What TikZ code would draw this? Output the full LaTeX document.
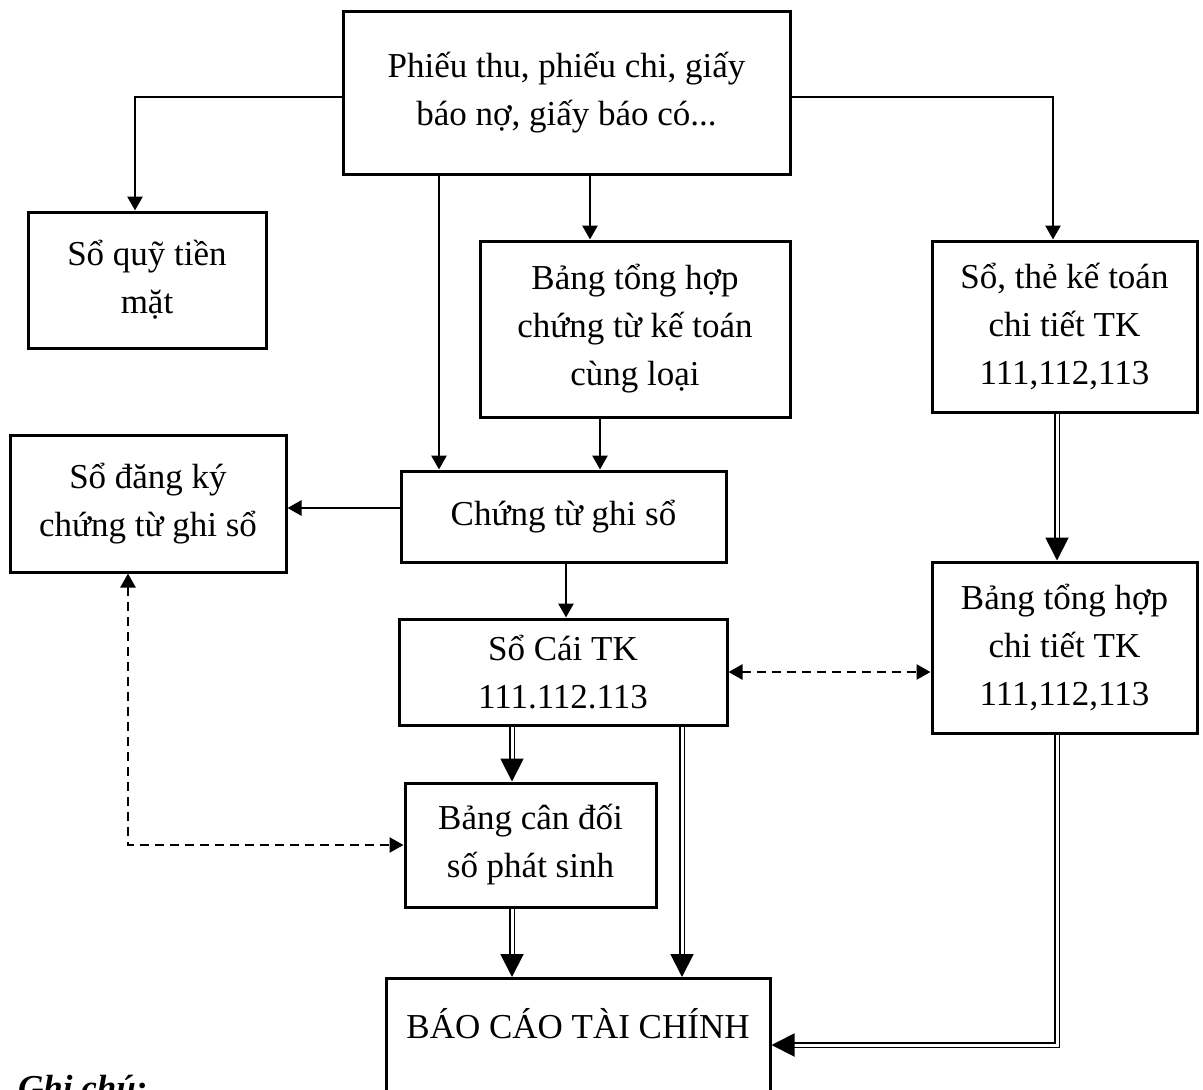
\documentclass[tikz,border=0pt]{standalone}
\usepackage{fontspec}
\setmainfont{Liberation Serif}
\usetikzlibrary{arrows.meta}

\tikzset{
  box/.style={draw, line width=3pt, align=center, inner sep=0pt,
              font=\fontsize{35}{48}\selectfont},
  conn/.style={line width=2.8pt, -{Triangle[length=14pt,width=15pt]}},
  dconn/.style={double, double distance=3pt, line width=1.9pt,
                -{Triangle[length=23pt,width=23pt]}},
  dashconn/.style={line width=2.6pt, dash pattern=on 9pt off 6pt,
                   {Triangle[length=14pt,width=15pt]}-{Triangle[length=14pt,width=15pt]}},
}

\begin{document}
\begin{tikzpicture}[x=1pt, y=-1pt]
\useasboundingbox[fill=white] (0,0) rectangle (1203,1090);

% boxes
\node[box, minimum width=447pt, minimum height=163pt] (src) at (566.5,92.5)
  {Phiếu thu, phiếu chi, giấy\\báo nợ, giấy báo có...};
\node[box, minimum width=238pt, minimum height=136pt] (quy) at (147,280)
  {Sổ quỹ tiền\\mặt};
\node[box, minimum width=310pt, minimum height=176pt] (bth) at (635,329)
  {Bảng tổng hợp\\chứng từ kế toán\\cùng loại};
\node[box, minimum width=265pt, minimum height=171pt] (sct) at (1064.5,326.5)
  {Sổ, thẻ kế toán\\chi tiết TK\\111,112,113};
\node[box, minimum width=325pt, minimum height=91pt] (ctgs) at (563.5,516.5)
  {Chứng từ ghi sổ};
\node[box, minimum width=276pt, minimum height=137pt] (sdk) at (148,503.5)
  {Sổ đăng ký\\chứng từ ghi sổ};
\node[box, minimum width=328pt, minimum height=106pt] (sc) at (563,672)
  {Sổ Cái TK\\111.112.113};
\node[box, minimum width=265pt, minimum height=171pt] (bthct) at (1064.5,647.5)
  {Bảng tổng hợp\\chi tiết TK\\111,112,113};
\node[box, minimum width=251pt, minimum height=124pt] (bcd) at (530.5,845)
  {Bảng cân đối\\số phát sinh};
\node[box, anchor=north, minimum width=384pt, text height=60pt, text depth=60pt]
  (bctc) at (578,977) {BÁO CÁO TÀI CHÍNH};

\node[anchor=base west, inner sep=0pt, font=\fontsize{35}{48}\selectfont\bfseries\itshape]
  (note) at (18,1099) {Ghi chú:};

% connector lanes
\coordinate (kL) at (135,97);
\coordinate (kR) at (1053,97);
\coordinate (kA) at (439,0);
\coordinate (kB) at (590,0);
\coordinate (kC) at (600,0);
\coordinate (kD) at (566,0);
\coordinate (kE) at (512,0);
\coordinate (kF) at (682,0);
\coordinate (kG) at (1057,1045);
\coordinate (kH) at (128,0);
\coordinate (kS) at (0,508);

% single arrows
\draw[conn] (src.west |- kL) -| (quy.north -| kL);
\draw[conn] (src.east |- kR) -| (sct.north -| kR);
\draw[conn] (src.south -| kA) -- (ctgs.north -| kA);
\draw[conn] (src.south -| kB) -- (bth.north -| kB);
\draw[conn] (bth.south -| kC) -- (ctgs.north -| kC);
\draw[conn] (ctgs.west |- kS) -- (sdk.east |- kS);
\draw[conn] (ctgs.south -| kD) -- (sc.north -| kD);

% double arrows
\draw[dconn] (sct.south -| kG) -- (bthct.north -| kG);
\draw[dconn] (sc.south -| kE) -- (bcd.north -| kE);
\draw[dconn] (bcd.south -| kE) -- (bctc.north -| kE);
\draw[dconn] (sc.south -| kF) -- (bctc.north -| kF);
\draw[dconn] (bthct.south -| kG) |- (bctc.east |- kG);

% dashed two-way arrows
\draw[dashconn] (sc.east) -- (sc.east -| bthct.west);
\draw[dashconn] (sdk.south -| kH) |- (bcd.west);
\end{tikzpicture}
\end{document}
